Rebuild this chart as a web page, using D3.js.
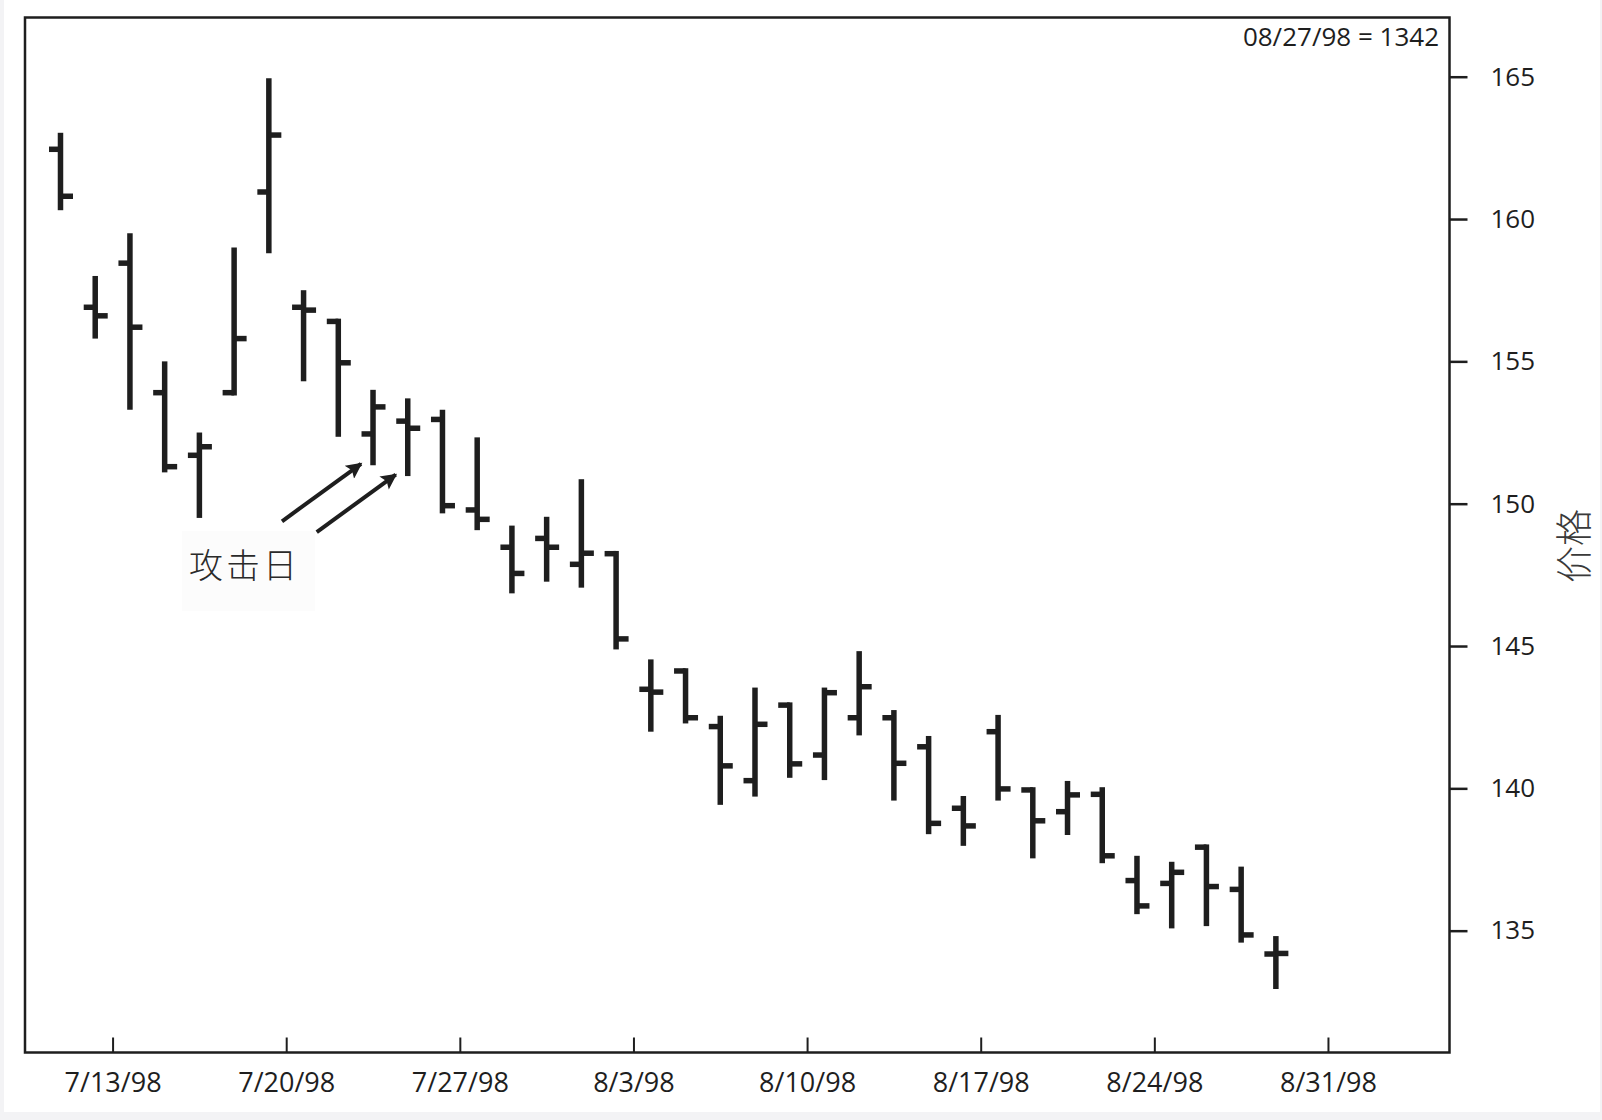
<!DOCTYPE html>
<html>
<head>
<meta charset="utf-8">
<script src="https://cdn.jsdelivr.net/npm/d3@7"></script>
<style>
  html, body { margin: 0; padding: 0; background: #f3f3f5; }
  svg { display: block; }
</style>
</head>
<body>
<div id="chart"></div>
<script>
// ---------------- DATA ----------------
const dates = ["7/9/98","7/10/98","7/13/98","7/14/98","7/15/98","7/16/98","7/17/98",
  "7/20/98","7/21/98","7/22/98","7/23/98","7/24/98",
  "7/27/98","7/28/98","7/29/98","7/30/98","7/31/98",
  "8/3/98","8/4/98","8/5/98","8/6/98","8/7/98",
  "8/10/98","8/11/98","8/12/98","8/13/98","8/14/98",
  "8/17/98","8/18/98","8/19/98","8/20/98","8/21/98",
  "8/24/98","8/25/98","8/26/98","8/27/98"];
const openVals  = [162.45,156.9,158.45,153.9,151.7,153.9,160.95,
  156.9,156.5,152.45,152.9,152.96,
  149.78,148.47,148.78,147.87,148.28,
  143.48,144.18,142.17,140.27,143.0,
  141.17,142.48,142.48,141.46,139.3,
  141.99,140.0,139.18,139.79,136.76,
  136.66,138.03,136.45,134.18];
const highVals  = [163.03,158.0,159.5,155.0,152.5,159.0,164.95,
  157.5,156.5,154.0,153.7,153.3,
  152.33,149.23,149.54,150.86,148.34,
  144.53,144.22,142.55,143.54,143.02,
  143.54,144.82,142.75,141.84,139.73,
  142.58,140.04,140.26,140.04,137.63,
  137.42,138.03,137.25,134.81];
const lowVals   = [160.31,155.8,153.3,151.1,149.5,153.8,158.8,
  154.3,152.35,151.35,150.97,149.66,
  149.07,146.85,147.26,147.05,144.88,
  141.99,142.28,139.42,139.71,140.37,
  140.29,141.86,139.57,138.39,137.98,
  139.57,137.54,138.36,137.37,135.58,
  135.08,135.16,134.58,132.95];
const closeVals = [160.8,156.6,156.2,151.3,152.0,155.8,162.95,
  156.8,154.95,153.4,152.65,149.93,
  149.45,147.55,148.47,148.26,145.25,
  143.38,142.48,140.79,142.25,140.86,
  143.36,143.57,140.88,138.77,138.68,
  139.98,138.86,139.77,137.63,135.87,
  137.05,136.55,134.85,134.2];
const xTickLabels = ["7/13/98","7/20/98","7/27/98","8/3/98","8/10/98","8/17/98","8/24/98","8/31/98"];
const yTicks = [135, 140, 145, 150, 155, 160, 165];
const lastLabel = "08/27/98 = 1342";
const yTitle = "价格";
const annotationText = "攻击日";
const attackDays = ["7/22/98", "7/23/98"];

// ---------------- LAYOUT ----------------
const W = 1602, H = 1120;
const L = 25, R = 1449.5, T = 17.5, B = 1052.5;
const ink = "#1e1e1e";

const svg = d3.select("#chart").append("svg")
  .attr("width", W).attr("height", H);

svg.append("rect").attr("x", 4).attr("y", 0)
  .attr("width", 1596).attr("height", 1112).attr("fill", "#ffffff");

// x: trading-day index scale
const x = d3.scaleLinear().domain([-1.022, 40.0]).range([L, R]);
const y = d3.scaleLinear().domain([130.72, 167.08]).range([B, T]);

// week boundary ticks: half a day before each Monday
const firstMonday = dates.indexOf(xTickLabels[0]);
const xTickVals = xTickLabels.map((d, k) => firstMonday - 0.5 + 5 * k);

// faint label backdrop
const annoG = svg.append("g");

// frame
svg.append("rect").attr("x", L).attr("y", T)
  .attr("width", R - L).attr("height", B - T)
  .attr("fill", "none").attr("stroke", ink).attr("stroke-width", 2.5);

// bottom axis
const xAxis = d3.axisBottom(x)
  .tickValues(xTickVals)
  .tickFormat((d, i) => xTickLabels[i])
  .tickSize(-15).tickPadding(20);
const gx = svg.append("g").attr("transform", `translate(0,${B})`).call(xAxis);
gx.select(".domain").remove();
gx.selectAll(".tick line").attr("stroke", ink).attr("stroke-width", 2);
gx.selectAll(".tick text").attr("fill", ink)
  .style("font-family", "'Open Sans', 'DejaVu Sans', sans-serif")
  .style("font-size", "27px");

// right axis
const yAxis = d3.axisRight(y).tickValues(yTicks).tickSize(18).tickPadding(23);
const gy = svg.append("g").attr("transform", `translate(${R},0)`).call(yAxis);
gy.select(".domain").remove();
gy.selectAll(".tick line").attr("stroke", ink).attr("stroke-width", 2.5);
gy.selectAll(".tick text").attr("fill", ink)
  .style("font-family", "'Open Sans', 'DejaVu Sans', sans-serif")
  .style("font-size", "26px");

// y title
svg.append("text")
  .attr("transform", `translate(1572,546) rotate(-90)`)
  .attr("text-anchor", "middle").attr("dominant-baseline", "central")
  .style("font-family", "'Noto Sans CJK SC', sans-serif")
  .style("font-weight", 300)
  .style("font-size", "37px")
  .attr("fill", "#3a3a3a")
  .text(yTitle);

// last value label
svg.append("text")
  .attr("x", 1439).attr("y", 46).attr("text-anchor", "end")
  .style("font-family", "'Open Sans', 'DejaVu Sans', sans-serif")
  .style("font-size", "26px").attr("fill", ink)
  .text(lastLabel);

// OHLC bars
const bars = dates.map((d, i) => ({
  i, d, o: openVals[i], h: highVals[i], l: lowVals[i], c: closeVals[i]
}));
const barW = 5.5, tickLen = 11.5, tickW = 5.5;
const clampY = (v, b) => Math.max(y(b.h) + tickW / 2, Math.min(y(b.l) - tickW / 2, y(v)));

const gb = svg.append("g");
gb.selectAll("line.hl").data(bars).join("line").attr("class", "hl")
  .attr("x1", b => x(b.i)).attr("x2", b => x(b.i))
  .attr("y1", b => y(b.h)).attr("y2", b => y(b.l))
  .attr("stroke", ink).attr("stroke-width", barW);
gb.selectAll("line.op").data(bars).join("line").attr("class", "op")
  .attr("x1", b => x(b.i) - tickLen).attr("x2", b => x(b.i))
  .attr("y1", b => clampY(b.o, b)).attr("y2", b => clampY(b.o, b))
  .attr("stroke", ink).attr("stroke-width", tickW);
gb.selectAll("line.cl").data(bars).join("line").attr("class", "cl")
  .attr("x1", b => x(b.i)).attr("x2", b => x(b.i) + tickLen + 1)
  .attr("y1", b => clampY(b.c, b)).attr("y2", b => clampY(b.c, b))
  .attr("stroke", ink).attr("stroke-width", tickW);

// annotation arrows pointing at the attack days' lows
const defs = svg.append("defs");
defs.append("marker").attr("id", "ah")
  .attr("viewBox", "0 0 10 10").attr("refX", 9).attr("refY", 5)
  .attr("markerUnits", "userSpaceOnUse")
  .attr("markerWidth", 20).attr("markerHeight", 16)
  .attr("orient", "auto")
  .append("path").attr("d", "M0,0 L10,5 L0,10 L2,5 Z").attr("fill", ink);

attackDays.forEach(d => {
  const b = bars[dates.indexOf(d)];
  const tx = x(b.i) - 10, ty = y(b.l) - 3;
  svg.append("line")
    .attr("x1", tx - 81).attr("y1", ty + 59)
    .attr("x2", tx - 2).attr("y2", ty + 1.5)
    .attr("stroke", ink).attr("stroke-width", 4)
    .attr("marker-end", "url(#ah)");
});

annoG.append("rect").attr("x", 182).attr("y", 531).attr("width", 133).attr("height", 80)
  .attr("fill", "#fcfcfc");
svg.append("text")
  .attr("x", 189).attr("y", 578)
  .style("font-family", "'Noto Sans CJK SC', sans-serif")
  .style("font-weight", 300)
  .style("font-size", "34px")
  .style("letter-spacing", "3px")
  .attr("fill", "#2a2a2a")
  .text(annotationText);
</script>
</body>
</html>
